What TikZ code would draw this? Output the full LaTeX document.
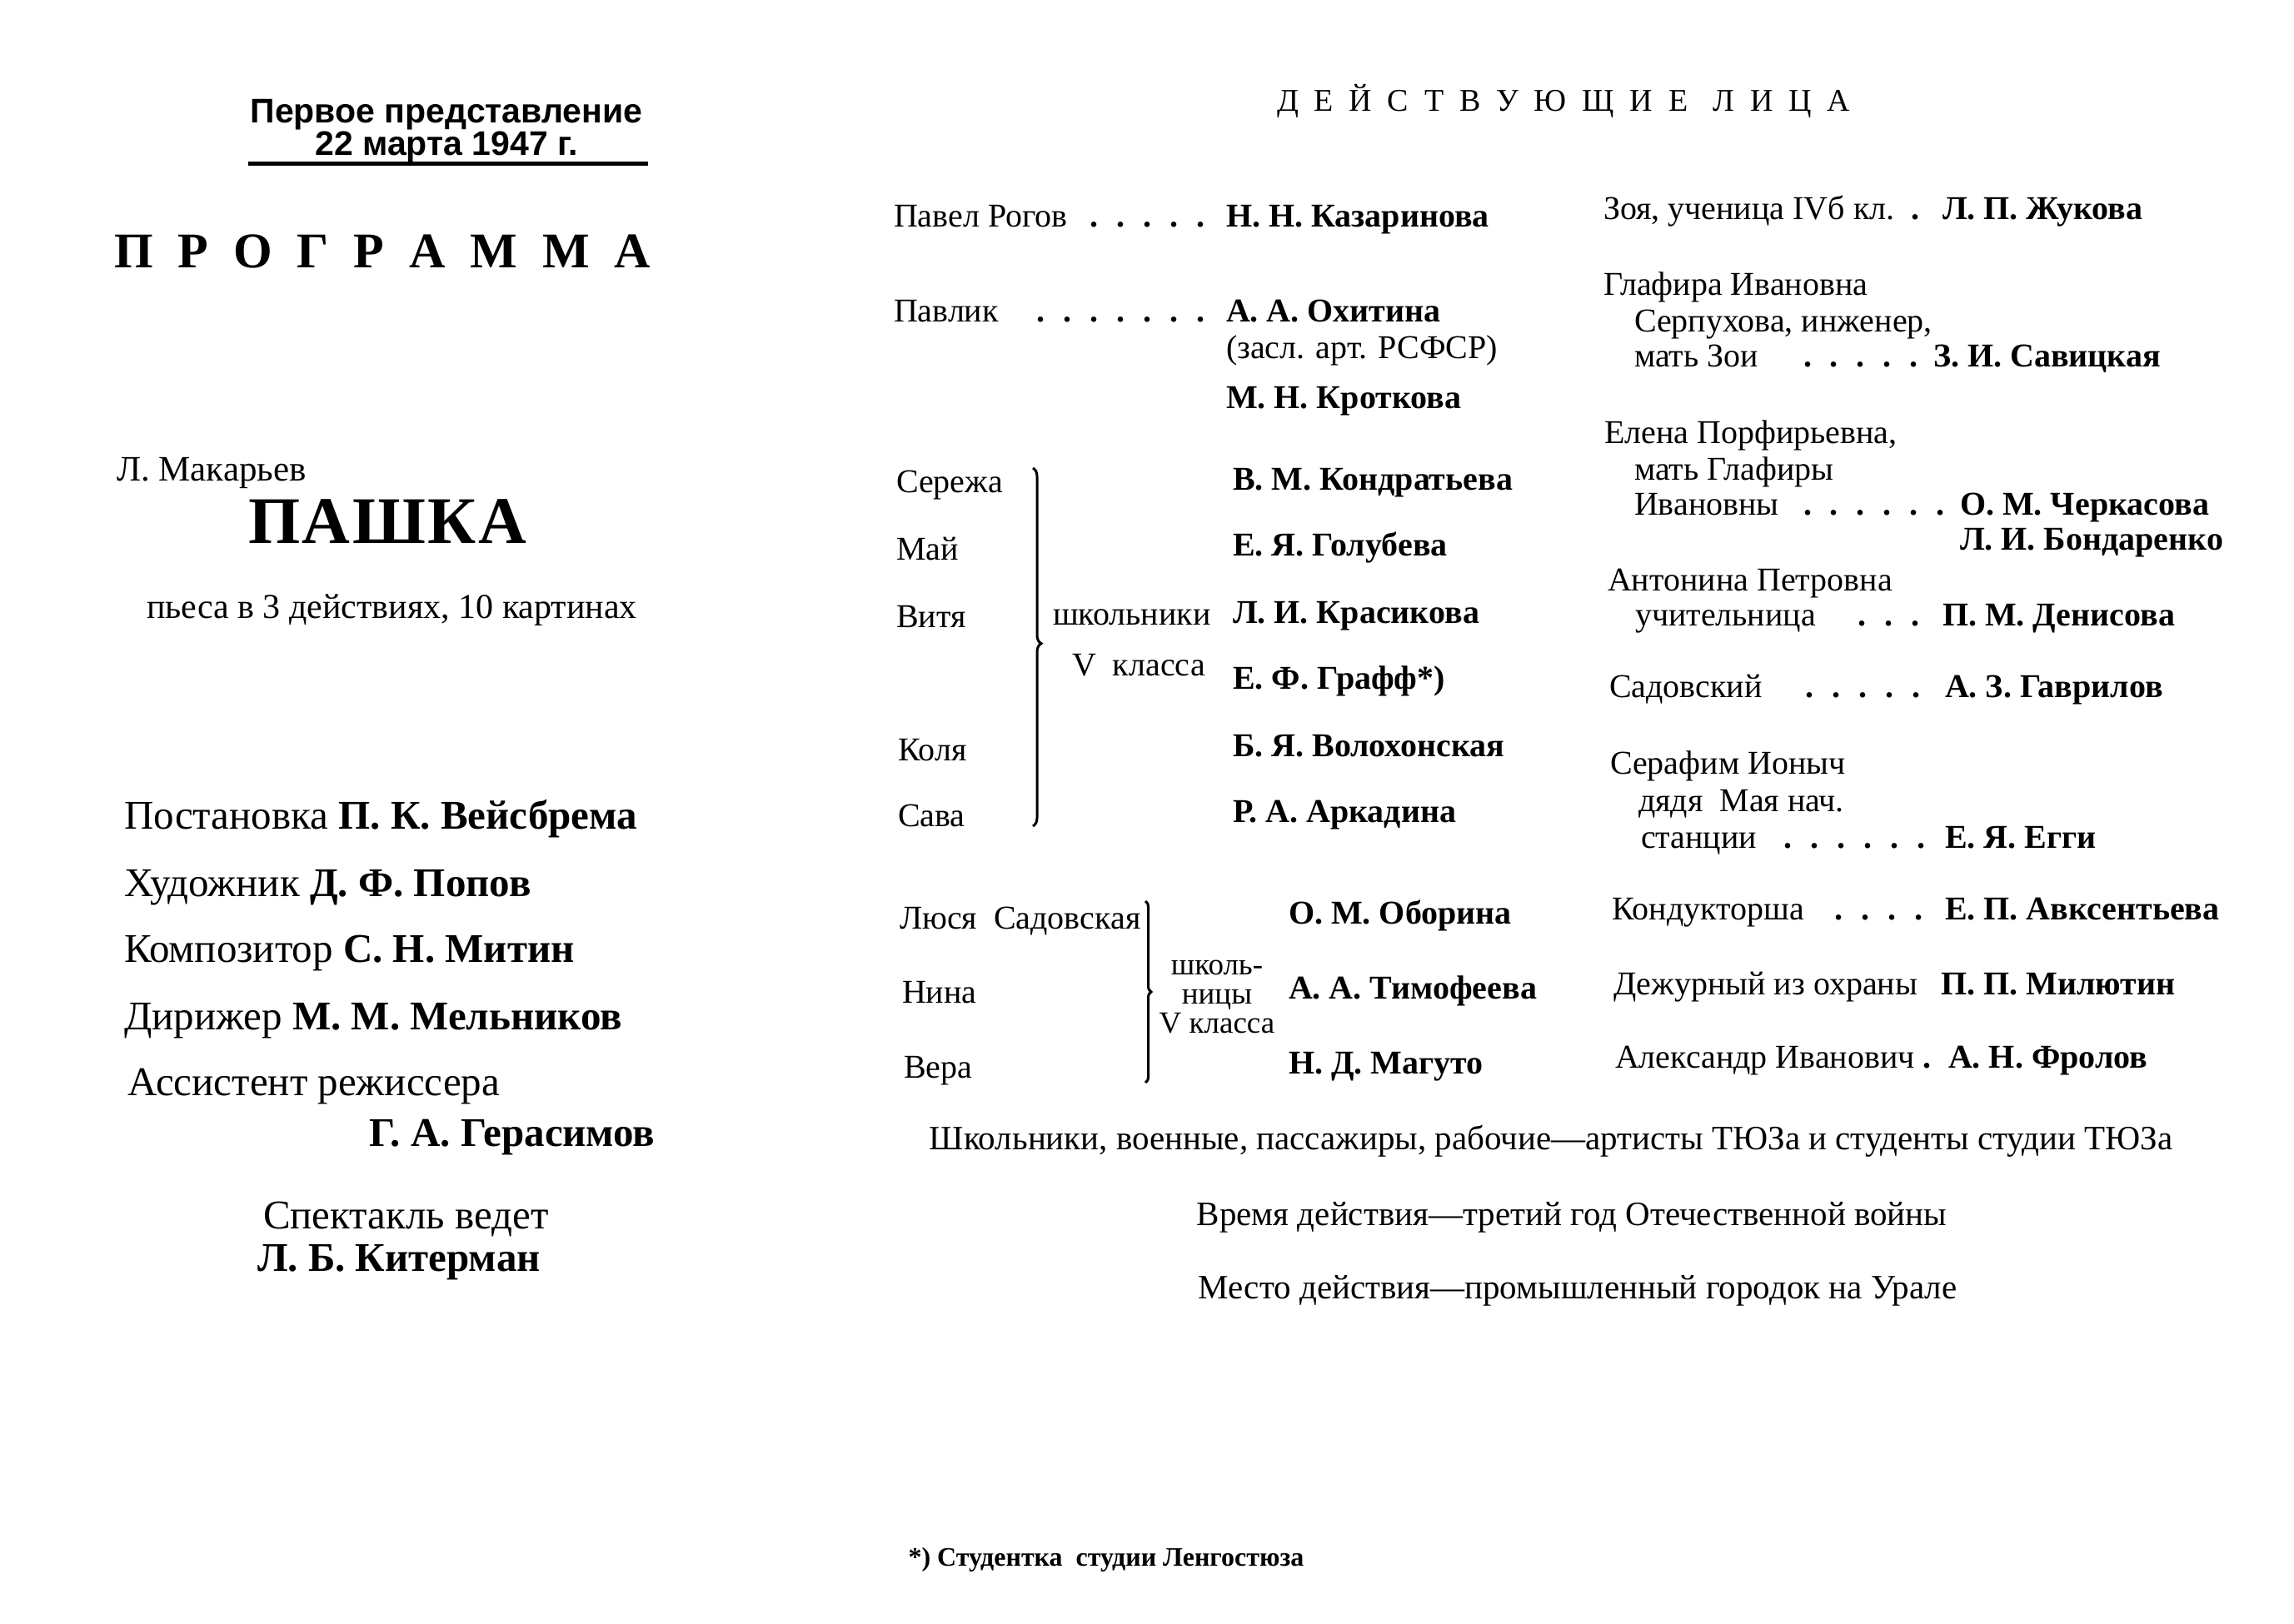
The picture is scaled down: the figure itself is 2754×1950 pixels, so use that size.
\documentclass[tikz,border=0pt]{standalone}
\usepackage{fontspec}
\setmainfont{Liberation Serif}
\newfontfamily\plainserif{Liberation Serif}
\newfontfamily\grot{Liberation Sans}
\usetikzlibrary{decorations.pathreplacing}
\newcommand\ldr{\leaders\hbox to 32pt{\hss\textbf{.}\hss}\hfill}
\newcommand\fs[1]{\fontsize{#1}{#1}\selectfont}
\begin{document}
\begin{tikzpicture}[x=1pt,y=-1pt,
  base/.style={inner sep=0pt, outer sep=0pt, anchor=mid west},
  role/.style={base, font=\fs{40}},
  actor/.style={base, font=\fs{40}\bfseries},
  crew/.style={base, font=\fs{49}},
  crewb/.style={base, font=\fs{49}\bfseries},
  note/.style={base, anchor=mid, font=\fs{41}},
  head/.style={base, anchor=center, align=center, font=\grot\bfseries\fontsize{41}{39}\selectfont},
  bracestyle/.style={decorate, line width=3pt},
]
\fill[white] (0,0) rectangle (2754,1950);
\useasboundingbox (0,0) rectangle (2754,1950);

\draw[line width=5pt] (298,197) -- (778,197);
\coordinate (b1t) at (1240,562);
\coordinate (b1b) at (1240,992);
\draw[bracestyle, decoration={brace, amplitude=10pt, aspect=0.49}] (b1t) -- (b1b);
\coordinate (b2t) at (1375,1082);
\coordinate (b2b) at (1375,1300);
\draw[bracestyle, decoration={brace, amplitude=7pt, aspect=0.5}] (b2t) -- (b2b);

\begin{scope}[yshift=-10pt]
% ---------- left page ----------
\node[head] (prem) at (536,147) {Первое представление\\22 марта 1947 г.};
\node[base, font=\plainserif\bfseries\fs{60}] (prog) at (137,309)
  {\hbox to 644pt{П\hfil Р\hfil О\hfil Г\hfil Р\hfil А\hfil М\hfil М\hfil А}};
\node[base, font=\fs{43}] (author) at (140,565) {Л. Макарьев};
\node[base, font=\plainserif\bfseries\fs{80}] (title) at (298,640)
  {\hbox to 334pt{П\hfil А\hfil Ш\hfil К\hfil А}};
\node[base, font=\fs{42}] (play) at (176,730) {пьеса в 3 действиях, 10 картинах};

\node[crew] (c1) at (149,983) {Постановка \textbf{П. К. Вейсбрема}};
\node[crew] (c2) at (149,1064) {Художник \textbf{Д. Ф. Попов}};
\node[crew] (c3) at (149,1143) {Композитор \textbf{С. Н. Митин}};
\node[crew] (c4) at (149,1224) {Дирижер \textbf{М. М. Мельников}};
\node[crew] (c5) at (153,1303) {Ассистент режиссера};
\node[crewb] (c6) at (443,1364) {Г. А. Герасимов};
\node[crew] (c7) at (316,1463) {Спектакль ведет};
\node[crewb] (c8) at (309,1514) {Л. Б. Китерман};

% ---------- right page ----------
\node[base, font=\plainserif\fs{38}] (dl) at (1533,121)
  {\hbox to 688pt{Д\hfil Е\hfil Й\hfil С\hfil Т\hfil В\hfil У\hfil Ю\hfil Щ\hfil И\hfil Е\hskip 0pt plus 1.6fil Л\hfil И\hfil Ц\hfil А}};

\node[role] (pavel) at (1073,260) {\hbox to 396pt{Павел Рогов\ \ldr}};
\node[actor] (kaz) at (1472,260) {Н. Н. Казаринова};
\node[role] (pavlik) at (1073,374) {\hbox to 396pt{Павлик\ \ldr}};
\node[actor] (okh) at (1472,374) {А. А. Охитина};
\node[role] (zasl) at (1472,418) {(засл. арт. РСФСР)};
\node[actor] (krot) at (1472,478) {М. Н. Кроткова};

\node[role] (serezha) at (1076,579) {Сережа};
\node[role] (mai) at (1076,660) {Май};
\node[role] (vitya) at (1076,741) {Витя};
\node[role] (kolya) at (1078,901) {Коля};
\node[role] (sava) at (1078,980) {Сава};
\node[role] (shk) at (1264,738) {школьники};
\node[role] (vkl) at (1287,799) {V\ \ класса};
\node[actor] (a1) at (1480,576) {В. М. Кондратьева};
\node[actor] (a2) at (1480,655) {Е. Я. Голубева};
\node[actor] (a3) at (1480,736) {Л. И. Красикова};
\node[actor] (a4) at (1480,815) {Е. Ф. Графф*)};
\node[actor] (a5) at (1480,896) {Б. Я. Волохонская};
\node[actor] (a6) at (1480,975) {Р. А. Аркадина};

\node[role] (lyusya) at (1080,1103) {Люся\ \ Садовская};
\node[role] (nina) at (1083,1192) {Нина};
\node[role] (vera) at (1085,1282) {Вера};
\node[base, anchor=center, align=center, font=\fontsize{37}{35}\selectfont] (shk2) at (1461,1187)
  {школь-\\ницы\\V класса};
\node[actor] (a7) at (1547,1097) {О. М. Оборина};
\node[actor] (a8) at (1547,1187) {А. А. Тимофеева};
\node[actor] (a9) at (1547,1277) {Н. Д. Магуто};

\node[role] (zoya) at (1925,251) {Зоя, ученица IVб кл.\ \ \textbf{.}};
\node[actor] (zhuk) at (2332,251) {Л. П. Жукова};
\node[role] (glaf1) at (1925,342) {Глафира Ивановна};
\node[role] (glaf2) at (1962,386) {Серпухова, инженер,};
\node[role] (glaf3) at (1962,428) {\hbox to 355pt{мать Зои\ \ \ldr}};
\node[actor] (sav) at (2321,428) {З. И. Савицкая};
\node[role] (elena1) at (1926,520) {Елена Порфирьевна,};
\node[role] (elena2) at (1962,564) {мать Глафиры};
\node[role] (elena3) at (1962,606) {\hbox to 387pt{Ивановны\ \ldr}};
\node[actor] (cherk) at (2353,606) {О. М. Черкасова};
\node[actor] (bond) at (2353,648) {Л. И. Бондаренко};
\node[role] (ant1) at (1930,697) {Антонина Петровна};
\node[role] (ant2) at (1963,739) {\hbox to 365pt{учительница\ \ldr}};
\node[actor] (den) at (2332,739) {П. М. Денисова};
\node[role] (sad) at (1932,825) {\hbox to 399pt{Садовский\ \ldr}};
\node[actor] (gavr) at (2335,825) {А. З. Гаврилов};
\node[role] (ser1) at (1933,917) {Серафим Ионыч};
\node[role] (ser2) at (1967,962) {дядя\ \ Мая нач.};
\node[role] (ser3) at (1970,1006) {\hbox to 361pt{станции\ \ldr}};
\node[actor] (eggi) at (2335,1006) {Е. Я. Егги};
\node[role] (kond) at (1935,1092) {\hbox to 396pt{Кондукторша\ \ \ldr}};
\node[actor] (avks) at (2335,1092) {Е. П. Авксентьева};
\node[role] (dezh) at (1937,1182) {Дежурный из охраны};
\node[actor] (mil) at (2330,1182) {П. П. Милютин};
\node[role] (alex) at (1939,1270) {Александр Иванович \textbf{.}};
\node[actor] (frol) at (2339,1270) {А. Н. Фролов};

\node[note] (extras) at (1862,1368) {Школьники, военные, пассажиры, рабочие—артисты ТЮЗа и студенты студии ТЮЗа};
\node[note] (time) at (1887,1459) {Время действия—третий год Отечественной войны};
\node[note] (place) at (1894,1547) {Место действия—промышленный городок на Урале};
\node[base, anchor=mid, font=\fs{32}\bfseries] (foot) at (1328,1868) {*) Студентка\ \ студии Ленгостюза};
\end{scope}
\end{tikzpicture}
\end{document}
